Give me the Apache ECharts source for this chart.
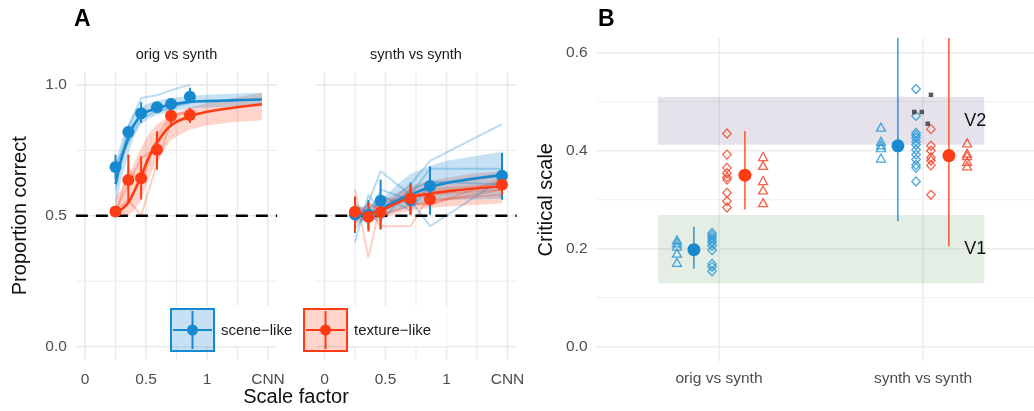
<!DOCTYPE html>
<html><head><meta charset="utf-8">
<script src="https://cdn.jsdelivr.net/npm/echarts@6/dist/echarts.min.js"></script>
<style>html,body{margin:0;padding:0;background:#fff}#c{width:1034px;height:411px}</style>
</head><body><div id="c"></div>
<script>
// ================= DATA =================
const facetTitles = ['orig vs synth', 'synth vs synth'];
const xTicks = [0, 0.5, 1, 1.5];
const xTickLabels = ['0', '0.5', '1', 'CNN'];
const xMinorTicks = [0.25, 0.75, 1.25];
const yTicksA = [0, 0.5, 1];
const yMinorA = [0.25, 0.75];
const chanceLevel = 0.5;
const seriesNames = ['scene\u2212like', 'texture\u2212like'];

// facet 1: orig vs synth  (observed means, error bars)
const obsX1 = [0.25, 0.355, 0.46, 0.59, 0.705, 0.86];
const scene1 = [0.686, 0.82, 0.892, 0.915, 0.927, 0.955];
const scene1Lo = [0.638, 0.80, 0.855, 0.90, 0.906, 0.931];
const scene1Hi = [0.733, 0.84, 0.934, 0.93, 0.95, 0.989];
const texture1 = [0.516, 0.637, 0.643, 0.752, 0.882, 0.885];
const texture1Lo = [0.505, 0.555, 0.562, 0.676, 0.842, 0.855];
const texture1Hi = [0.53, 0.734, 0.727, 0.823, 0.906, 0.912];
// facet 1 fitted curves + bands
const fitX1 = [0.25, 0.3, 0.355, 0.4, 0.46, 0.52, 0.59, 0.705, 0.86, 1.0, 1.2, 1.45];
const sceneFit1 = [0.62, 0.72, 0.795, 0.845, 0.885, 0.90, 0.91, 0.925, 0.935, 0.938, 0.941, 0.944];
const sceneFit1Lo = [0.53, 0.64, 0.735, 0.80, 0.85, 0.87, 0.885, 0.90, 0.91, 0.914, 0.917, 0.92];
const sceneFit1Hi = [0.70, 0.79, 0.85, 0.89, 0.915, 0.93, 0.94, 0.95, 0.958, 0.962, 0.966, 0.97];
const textureFit1 = [0.515, 0.525, 0.55, 0.59, 0.65, 0.72, 0.78, 0.845, 0.88, 0.897, 0.912, 0.926];
const textureFit1Lo = [0.50, 0.50, 0.50, 0.52, 0.56, 0.64, 0.71, 0.79, 0.83, 0.845, 0.857, 0.865];
const textureFit1Hi = [0.57, 0.60, 0.65, 0.70, 0.76, 0.81, 0.85, 0.885, 0.915, 0.93, 0.948, 0.97];
// facet 1 individual observers
const indiv1Scene = [
  [0.60, 0.84, 0.95, 0.96, 0.98, 1.0],
  [0.70, 0.78, 0.87, 0.90, 0.91, 0.94],
  [0.66, 0.83, 0.88, 0.92, 0.92, 0.93]
];
const indiv1Texture = [
  [0.52, 0.56, 0.50, 0.70, 0.86, 0.87],
  [0.50, 0.68, 0.62, 0.80, 0.89, 0.89],
  [0.52, 0.62, 0.72, 0.76, 0.88, 0.90]
];

// facet 2: synth vs synth
const obsX2 = [0.25, 0.36, 0.46, 0.705, 0.865, 1.455];
const scene2 = [0.505, 0.504, 0.557, 0.56, 0.614, 0.653];
const scene2Lo = [0.434, 0.45, 0.447, 0.504, 0.504, 0.562];
const scene2Hi = [0.562, 0.56, 0.638, 0.627, 0.689, 0.74];
const texture2 = [0.515, 0.496, 0.513, 0.566, 0.563, 0.618];
const texture2Lo = [0.44, 0.44, 0.45, 0.504, 0.54, 0.58];
const texture2Hi = [0.574, 0.55, 0.545, 0.619, 0.58, 0.657];
const fitX2 = [0.25, 0.36, 0.46, 0.6, 0.705, 0.865, 1.0, 1.2, 1.455];
const sceneFit2 = [0.50, 0.505, 0.525, 0.56, 0.58, 0.61, 0.625, 0.64, 0.655];
const sceneFit2Lo = [0.47, 0.48, 0.495, 0.52, 0.535, 0.555, 0.56, 0.562, 0.565];
const sceneFit2Hi = [0.53, 0.54, 0.56, 0.62, 0.66, 0.69, 0.71, 0.725, 0.745];
const textureFit2 = [0.505, 0.51, 0.52, 0.55, 0.57, 0.585, 0.593, 0.603, 0.612];
const textureFit2Lo = [0.48, 0.485, 0.49, 0.51, 0.52, 0.53, 0.535, 0.54, 0.548];
const textureFit2Hi = [0.53, 0.535, 0.55, 0.59, 0.615, 0.635, 0.645, 0.66, 0.67];
const indiv2Scene = [
  [0.40, 0.58, 0.52, 0.62, 0.71, 0.85],
  [0.52, 0.47, 0.60, 0.56, 0.46, 0.64],
  [0.48, 0.55, 0.67, 0.58, 0.68, 0.68],
  [0.55, 0.50, 0.48, 0.60, 0.63, 0.62],
  [0.45, 0.52, 0.58, 0.52, 0.62, 0.66]
];
const indiv2Texture = [
  [0.60, 0.34, 0.55, 0.57, 0.60, 0.62],
  [0.50, 0.52, 0.46, 0.46, 0.58, 0.60],
  [0.47, 0.55, 0.52, 0.60, 0.56, 0.58],
  [0.52, 0.48, 0.57, 0.55, 0.54, 0.64],
  [0.50, 0.50, 0.50, 0.54, 0.55, 0.60]
];

// panel B: critical scale
const categoriesB = ['orig vs synth', 'synth vs synth'];
const yTicksB = [0, 0.2, 0.4, 0.6];
const yMinorB = [0.1, 0.3, 0.5];
const sceneTri = [[0.218, 0.212, 0.205, 0.191, 0.172], [0.448, 0.419, 0.412, 0.406, 0.385]];
const sceneDia = [[0.232, 0.227, 0.222, 0.217, 0.212, 0.206, 0.197, 0.169, 0.163, 0.154],
                  [0.526, 0.471, 0.436, 0.431, 0.426, 0.419, 0.412, 0.402, 0.392, 0.382, 0.371, 0.365, 0.337]];
const textureDia = [[0.435, 0.392, 0.365, 0.354, 0.346, 0.341, 0.314, 0.297, 0.284],
                    [0.444, 0.41, 0.40, 0.386, 0.38, 0.37, 0.31]];
const textureTri = [[0.388, 0.37, 0.339, 0.32, 0.294], [0.416, 0.395, 0.39, 0.378, 0.369]];
const sceneMean = [0.198, 0.41], sceneMeanLo = [0.159, 0.256], sceneMeanHi = [0.245, 0.63];
const textureMean = [0.35, 0.39], textureMeanLo = [0.28, 0.205], textureMeanHi = [0.44, 0.63];
const cnnCritical = [0.514, 0.479, 0.479, 0.455];   // synth vs synth only
const bandNames = ['V1', 'V2'];
const bandLo = [0.129, 0.412];
const bandHi = [0.269, 0.51];

// ================= LAYOUT / STYLE =================
const FONT = "'Liberation Sans', Arial, Helvetica, sans-serif";
const BLUE = '#1689d0', RED = '#ff3b14';
const BLUE_FILL = 'rgba(22,137,208,0.25)', RED_FILL = 'rgba(255,59,20,0.22)';
const BLUE_FAINT = 'rgba(22,137,208,0.3)', RED_FAINT = 'rgba(255,59,20,0.25)';
const GRIDC = '#ebebeb';
const OFF = {sceneTri: -0.206, sceneMean: -0.123, sceneDia: -0.034, textureDia: 0.039, textureMean: 0.127, textureTri: 0.216};
const cnnJitter = [0.039, -0.043, -0.006, 0.023];
const bandX = [0.7, 2.3];

const chart = echarts.init(document.getElementById('c'), null, {renderer: 'canvas'});

function nearestLabel(v, vals, labels) {
  let k = 0; vals.forEach((t, i) => { if (Math.abs(t - v) < Math.abs(vals[k] - v)) k = i; });
  return labels[k];
}
function gridLines(ai, vals, dir, width, color, z, dash) {
  return {type: 'custom', xAxisIndex: ai, yAxisIndex: ai, silent: true, z: z || 0,
    data: vals.map(v => [v, v]), encode: {x: 0, y: 1},
    renderItem: (p, api) => {
      const cs = p.coordSys; const v = api.value(0); let shape;
      if (dir === 'v') { const x = api.coord([v, 0.3])[0]; shape = {x1: x, y1: cs.y, x2: x, y2: cs.y + cs.height}; }
      else { const y = api.coord([0.5, v])[1]; shape = {x1: cs.x, y1: y, x2: cs.x + cs.width, y2: y}; }
      return {type: 'line', shape, style: {stroke: color, lineWidth: width, lineDash: dash || null}};
    }};
}
function ribbon(ai, xs, lo, hi, fill, z) {
  return {type: 'custom', xAxisIndex: ai, yAxisIndex: ai, silent: true, z,
    data: xs.map((x, i) => [x, lo[i], hi[i]]), encode: {x: 0, y: [1, 2]},
    renderItem: (p, api) => {
      if (p.dataIndex !== 0) return null;
      const pts = [];
      xs.forEach((x, i) => pts.push(api.coord([x, hi[i]])));
      for (let i = xs.length - 1; i >= 0; i--) pts.push(api.coord([xs[i], lo[i]]));
      return {type: 'polygon', shape: {points: pts}, style: {fill}};
    }};
}
function errBars(ai, xs, lo, hi, color, w, z) {
  return {type: 'custom', xAxisIndex: ai, yAxisIndex: ai, silent: true, z,
    data: xs.map((x, i) => [x, lo[i], hi[i]]), encode: {x: 0, y: [1, 2]},
    renderItem: (p, api) => {
      const a = api.coord([api.value(0), api.value(1)]), b = api.coord([api.value(0), api.value(2)]);
      return {type: 'line', shape: {x1: a[0], y1: a[1], x2: b[0], y2: b[1]}, style: {stroke: color, lineWidth: w}};
    }};
}
function curve(ai, xs, ys, color, width, z, smooth) {
  return {type: 'line', xAxisIndex: ai, yAxisIndex: ai, data: xs.map((x, i) => [x, ys[i]]),
    showSymbol: false, symbol: 'none', smooth: smooth, silent: true, z, lineStyle: {color, width}};
}
function points(ai, xs, ys, color, size, z) {
  return {type: 'scatter', xAxisIndex: ai, yAxisIndex: ai, data: xs.map((x, i) => [x, ys[i]]),
    symbolSize: size, itemStyle: {color, opacity: 1}, silent: true, z};
}

const series = [];
const facets = [
  {obsX: obsX1, s: scene1, sLo: scene1Lo, sHi: scene1Hi, t: texture1, tLo: texture1Lo, tHi: texture1Hi,
   fitX: fitX1, sf: sceneFit1, sfLo: sceneFit1Lo, sfHi: sceneFit1Hi, tf: textureFit1, tfLo: textureFit1Lo, tfHi: textureFit1Hi,
   iS: indiv1Scene, iT: indiv1Texture},
  {obsX: obsX2, s: scene2, sLo: scene2Lo, sHi: scene2Hi, t: texture2, tLo: texture2Lo, tHi: texture2Hi,
   fitX: fitX2, sf: sceneFit2, sfLo: sceneFit2Lo, sfHi: sceneFit2Hi, tf: textureFit2, tfLo: textureFit2Lo, tfHi: textureFit2Hi,
   iS: indiv2Scene, iT: indiv2Texture}
];
facets.forEach((f, fi) => {
  series.push(gridLines(fi, xMinorTicks, 'v', 1.3, GRIDC));
  series.push(gridLines(fi, xTicks, 'v', 1.7, GRIDC));
  series.push(gridLines(fi, yMinorA, 'h', 1.0, GRIDC));
  series.push(gridLines(fi, yTicksA, 'h', 1.6, GRIDC));
  series.push(ribbon(fi, f.fitX, f.tfLo, f.tfHi, RED_FILL, 1));
  series.push(ribbon(fi, f.fitX, f.sfLo, f.sfHi, BLUE_FILL, 1));
  f.iT.forEach(ys => series.push(curve(fi, f.obsX, ys, RED_FAINT, 2, 2, false)));
  f.iS.forEach(ys => series.push(curve(fi, f.obsX, ys, BLUE_FAINT, 2, 2, false)));
  series.push(gridLines(fi, [chanceLevel], 'h', 2.5, '#000', 3, [12, 8]));
  series.push(curve(fi, f.fitX, f.sf, BLUE, 2.6, 4, 0.4));
  series.push(curve(fi, f.fitX, f.tf, RED, 2.6, 4, 0.4));
  series.push(errBars(fi, f.obsX, f.sLo, f.sHi, BLUE, 2, 5));
  series.push(errBars(fi, f.obsX, f.tLo, f.tHi, RED, 2, 5));
  series.push(points(fi, f.obsX, f.s, BLUE, 12, 6));
  series.push(points(fi, f.obsX, f.t, RED, 12, 7));
});

// panel B
const B = 2;
series.push(gridLines(B, [1, 2], 'v', 1.4, GRIDC));
series.push(gridLines(B, yMinorB, 'h', 0.8, GRIDC));
series.push(gridLines(B, yTicksB, 'h', 1.4, GRIDC));
series.push({type: 'scatter', xAxisIndex: B, yAxisIndex: B, data: [], z: 1, silent: true,
  markArea: {silent: true,
    label: {show: true, position: 'insideRight', distance: -2, fontFamily: FONT, fontSize: 18, color: '#111'},
    data: bandNames.map((n, i) => [
      {name: n, xAxis: bandX[0], yAxis: bandLo[i], itemStyle: {color: i === 0 ? 'rgba(120,170,120,0.2)' : 'rgba(130,110,155,0.2)'}},
      {xAxis: bandX[1], yAxis: bandHi[i]}
    ])}});
function catPoints(arrs, off) {
  const out = [];
  arrs.forEach((vals, ci) => vals.forEach(v => out.push([ci + 1 + off, v])));
  return out;
}
function emptyScatter(data, symbol, size, color) {
  return {type: 'scatter', xAxisIndex: B, yAxisIndex: B, data, symbol, symbolSize: size, silent: true, z: 3,
    itemStyle: {color: 'rgba(0,0,0,0)', borderColor: color, borderWidth: 1.3, opacity: 1}};
}
series.push(emptyScatter(catPoints(sceneTri, OFF.sceneTri), 'triangle', [9, 8], 'rgba(40,150,215,0.85)'));
series.push(emptyScatter(catPoints(sceneDia, OFF.sceneDia), 'diamond', [8.5, 9], 'rgba(40,150,215,0.85)'));
series.push(emptyScatter(catPoints(textureDia, OFF.textureDia), 'diamond', [8.5, 9], 'rgba(245,70,45,0.85)'));
series.push(emptyScatter(catPoints(textureTri, OFF.textureTri), 'triangle', [9, 8], 'rgba(245,70,45,0.85)'));
const catX = categoriesB.map((c, i) => i + 1);
series.push(errBars(B, catX.map(c => c + OFF.sceneMean), sceneMeanLo, sceneMeanHi, BLUE, 1.3, 4));
series.push(errBars(B, catX.map(c => c + OFF.textureMean), textureMeanLo, textureMeanHi, RED, 1.3, 4));
series.push(points(B, catX.map(c => c + OFF.sceneMean), sceneMean, BLUE, 13, 5));
series.push(points(B, catX.map(c => c + OFF.textureMean), textureMean, RED, 13, 5));
series.push({type: 'scatter', xAxisIndex: B, yAxisIndex: B, silent: true, z: 6, symbol: 'rect', symbolSize: 4.5,
  data: cnnCritical.map((v, i) => [2 + cnnJitter[i], v]), itemStyle: {color: '#333'}});

const tickStyle = {color: '#4d4d4d', fontSize: 15.5, fontFamily: FONT};
function xAxisA(i) {
  return {gridIndex: i, type: 'value', min: -0.075, max: 1.575,
    axisLine: {show: false}, axisTick: {show: false}, splitLine: {show: false},
    axisLabel: Object.assign({customValues: xTicks, margin: 12, formatter: v => nearestLabel(v, xTicks, xTickLabels)}, tickStyle)};
}
function yAxisA(i) {
  return {gridIndex: i, type: 'value', min: -0.05, max: 1.05,
    axisLine: {show: false}, axisTick: {show: false}, splitLine: {show: false},
    name: i === 0 ? 'Proportion correct' : '', nameLocation: 'middle', nameGap: 45,
    nameTextStyle: {fontSize: 20, color: '#111', fontFamily: FONT},
    axisLabel: Object.assign({show: i === 0, customValues: yTicksA, margin: 9, formatter: v => v.toFixed(1)}, tickStyle)};
}
const gridCommon = {containLabel: false, outerBoundsMode: 'none'};
const option = {
  animation: false,
  backgroundColor: '#fff',
  grid: [
    Object.assign({left: 75.85, top: 71.8, width: 201.3, height: 287.9}, gridCommon),
    Object.assign({left: 315.35, top: 71.8, width: 201.3, height: 287.9}, gridCommon),
    Object.assign({left: 596.6, top: 38, width: 448.8, height: 323.4}, gridCommon)
  ],
  xAxis: [xAxisA(0), xAxisA(1),
    {gridIndex: 2, type: 'value', min: 0.4, max: 2.6,
      axisLine: {show: false}, axisTick: {show: false}, splitLine: {show: false},
      axisLabel: Object.assign({customValues: catX, margin: 9, formatter: v => nearestLabel(v, catX, categoriesB)}, tickStyle)}],
  yAxis: [yAxisA(0), yAxisA(1),
    {gridIndex: 2, type: 'value', min: -0.03, max: 0.63,
      axisLine: {show: false}, axisTick: {show: false}, splitLine: {show: false},
      name: 'Critical scale', nameLocation: 'middle', nameGap: 40,
      nameTextStyle: {fontSize: 20, color: '#111', fontFamily: FONT},
      axisLabel: Object.assign({customValues: yTicksB, margin: 9, formatter: v => v.toFixed(1)}, tickStyle)}],
  series,
  graphic: [
    {type: 'text', z: 100, style: {text: 'A', x: 74, y: 8, font: 'bold 23px ' + FONT, fill: '#000'}},
    {type: 'text', z: 100, style: {text: 'B', x: 598, y: 8, font: 'bold 23px ' + FONT, fill: '#000'}},
    {type: 'text', z: 100, style: {text: facetTitles[0], x: 176.5, y: 55, textAlign: 'center', align: 'center', textVerticalAlign: 'middle', verticalAlign: 'middle', font: '14.5px ' + FONT, fill: '#1a1a1a'}},
    {type: 'text', z: 100, style: {text: facetTitles[1], x: 416, y: 55, textAlign: 'center', align: 'center', textVerticalAlign: 'middle', verticalAlign: 'middle', font: '14.5px ' + FONT, fill: '#1a1a1a'}},
    {type: 'text', z: 100, style: {text: 'Scale factor', x: 296, y: 397, textAlign: 'center', align: 'center', textVerticalAlign: 'middle', verticalAlign: 'middle', font: '20px ' + FONT, fill: '#111'}},
    // legend
    {type: 'rect', z: 100, shape: {x: 163, y: 306, width: 284, height: 40}, style: {fill: '#fff'}},
    {type: 'rect', z: 101, shape: {x: 171, y: 309, width: 43, height: 42}, style: {fill: BLUE_FILL, stroke: BLUE, lineWidth: 2}},
    {type: 'line', z: 102, shape: {x1: 173, y1: 330, x2: 212, y2: 330}, style: {stroke: BLUE, lineWidth: 2}},
    {type: 'line', z: 102, shape: {x1: 192.5, y1: 311, x2: 192.5, y2: 349}, style: {stroke: BLUE, lineWidth: 2}},
    {type: 'circle', z: 103, shape: {cx: 192.5, cy: 330, r: 5.5}, style: {fill: BLUE}},
    {type: 'text', z: 101, style: {text: seriesNames[0], x: 221, y: 331, textVerticalAlign: 'middle', verticalAlign: 'middle', font: '15px ' + FONT, fill: '#1a1a1a'}},
    {type: 'rect', z: 101, shape: {x: 304, y: 309, width: 43, height: 42}, style: {fill: RED_FILL, stroke: RED, lineWidth: 2}},
    {type: 'line', z: 102, shape: {x1: 306, y1: 330, x2: 345, y2: 330}, style: {stroke: RED, lineWidth: 2}},
    {type: 'line', z: 102, shape: {x1: 325.5, y1: 311, x2: 325.5, y2: 349}, style: {stroke: RED, lineWidth: 2}},
    {type: 'circle', z: 103, shape: {cx: 325.5, cy: 330, r: 5.5}, style: {fill: RED}},
    {type: 'text', z: 101, style: {text: seriesNames[1], x: 354, y: 331, textVerticalAlign: 'middle', verticalAlign: 'middle', font: '15px ' + FONT, fill: '#1a1a1a'}}
  ]
};
chart.setOption(option);
</script></body></html>
